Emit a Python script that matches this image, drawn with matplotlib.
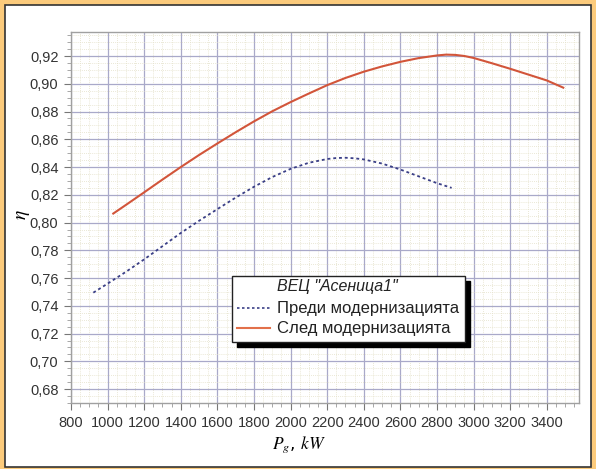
import matplotlib
matplotlib.use("Agg")
import matplotlib.pyplot as plt
from matplotlib.patches import Rectangle
from matplotlib.lines import Line2D
from matplotlib.ticker import MultipleLocator, FuncFormatter

# Data
p_before = [922, 1000, 1100, 1200, 1300, 1400, 1500, 1600, 1700, 1800, 1900, 2000, 2100, 2200,
            2250, 2300, 2350, 2400, 2500, 2600, 2700, 2800, 2880]
eta_before = [0.7495, 0.7560, 0.7645, 0.7735, 0.7830, 0.7925, 0.8013, 0.8097, 0.8180, 0.8258,
              0.8328, 0.8387, 0.8431, 0.8458, 0.8465, 0.8467, 0.8463, 0.8455, 0.8425, 0.8382,
              0.8333, 0.8284, 0.8250]

p_after = [1031, 1100, 1200, 1300, 1400, 1500, 1600, 1700, 1800, 1900, 2000, 2100, 2200, 2300,
           2400, 2500, 2600, 2700, 2800, 2850, 2900, 2950, 3000, 3100, 3200, 3300, 3400, 3490]
eta_after = [0.8065, 0.8127, 0.8218, 0.8310, 0.8400, 0.8487, 0.8570, 0.8651, 0.8729, 0.8802,
             0.8868, 0.8930, 0.8990, 0.9042, 0.9087, 0.9125, 0.9158, 0.9185, 0.9204, 0.9210,
             0.9208, 0.9200, 0.9186, 0.9148, 0.9108, 0.9066, 0.9024, 0.8972]

legend_title = 'ВЕЦ "Асеница1"'
label_before = "Преди модернизацията"
label_after = "След модернизацията"

W, H = 596, 469
fig = plt.figure(figsize=(W / 100, H / 100), dpi=100)
fig.patch.set_facecolor("#FCCB7C")
plt.rcParams["mathtext.fontset"] = "stix"

# inner white panel with dark border
fig.patches.append(Rectangle((5 / W, 2 / H), 586 / W, 462 / H, transform=fig.transFigure,
                             facecolor="white", edgecolor="#333333", linewidth=1.2, zorder=-10))

left, right, top, bottom = 71, 579, 32, 403
ax = fig.add_axes([left / W, 1 - bottom / H, (right - left) / W, (bottom - top) / H])
ax.set_zorder(1)
ax.set_facecolor("white")
ax.set_xlim(800, 3576)
ax.set_ylim(0.6700, 0.9373)

ax.xaxis.set_major_locator(MultipleLocator(200))
ax.xaxis.set_minor_locator(MultipleLocator(50))
ax.yaxis.set_major_locator(MultipleLocator(0.02))
ax.yaxis.set_minor_locator(MultipleLocator(0.005))
ax.yaxis.set_major_formatter(FuncFormatter(lambda v, p: f"{v:.2f}".replace(".", ",")))
ax.xaxis.set_major_formatter(FuncFormatter(lambda v, p: f"{v:.0f}"))

ax.grid(which="major", color="#A9A9C9", linewidth=0.9)
ax.grid(which="minor", color="#E3E0C8", linewidth=0.6, linestyle=(0, (1, 1.5)))
ax.set_axisbelow(True)

for s in ax.spines.values():
    s.set_color("#A0A0A0")
    s.set_linewidth(1.0)

tick_font = ["Liberation Sans Narrow", "Liberation Sans", "DejaVu Sans"]
ax.tick_params(which="major", direction="out", length=5, width=0.8, color="#777777",
               labelsize=10.5, labelcolor="#333333", pad=4)
ax.tick_params(which="minor", direction="out", length=3, width=0.6, color="#999999")
for lab in ax.get_xticklabels() + ax.get_yticklabels():
    lab.set_family(tick_font)

# curves
ax.plot(p_before, eta_before, color="#3A3F86", linewidth=1.3, linestyle=(0, (1.6, 1.6)), zorder=3)
ax.plot(p_after, eta_after, color="#D2553A", linewidth=1.5, zorder=3)

# axis labels
fig.text(22 / W, 1 - 215 / H, r"$\eta$", rotation=90, ha="center", va="center", fontsize=14)
fig.text(299 / W, 1 - 445 / H, r"$P_g$, $kW$", ha="center", va="center", fontsize=12.5)

# legend box with black shadow
lx0, ly0, lx1, ly1 = 232, 276, 465, 342
sh = 5
fig.patches.append(Rectangle(((lx0 + sh) / W, 1 - (ly1 + sh) / H), (lx1 - lx0) / W, (ly1 - ly0) / H,
                             transform=fig.transFigure, facecolor="black", edgecolor="black", zorder=5))
fig.patches.append(Rectangle((lx0 / W, 1 - ly1 / H), (lx1 - lx0) / W, (ly1 - ly0) / H,
                             transform=fig.transFigure, facecolor="white", edgecolor="#222222",
                             linewidth=1.0, zorder=6))
leg_font = ["Liberation Sans", "DejaVu Sans"]
fig.text(337 / W, 1 - 287 / H, legend_title, ha="center", va="center", fontsize=11.5,
         style="italic", family=leg_font, color="#222222", zorder=7)
fig.add_artist(Line2D([237 / W, 270 / W], [1 - 308 / H] * 2, transform=fig.transFigure,
                      color="#3A3F86", linewidth=1.2, linestyle=(0, (1.5, 1.5)), zorder=7))
fig.add_artist(Line2D([237 / W, 270 / W], [1 - 328 / H] * 2, transform=fig.transFigure,
                      color="#E2704A", linewidth=1.5, zorder=7))
fig.text(277 / W, 1 - 308 / H, label_before, ha="left", va="center", fontsize=12,
         family=leg_font, color="#222222", zorder=7)
fig.text(277 / W, 1 - 328 / H, label_after, ha="left", va="center", fontsize=12,
         family=leg_font, color="#222222", zorder=7)

fig.savefig("out.png", dpi=100, facecolor=fig.get_facecolor())
